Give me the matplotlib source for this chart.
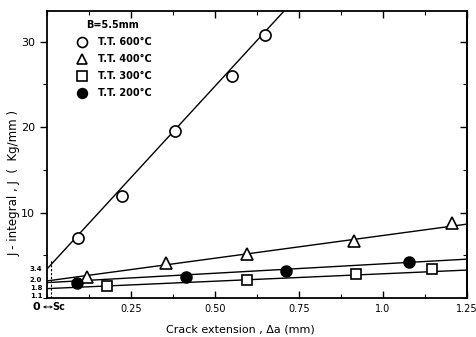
import matplotlib.pyplot as plt
from matplotlib.ticker import MultipleLocator

# Measured points (crack extension mm, J kg/mm)
da_600 = [0.092, 0.223, 0.381, 0.550, 0.650]
j_600 = [7.0, 12.0, 19.6, 26.0, 30.8]
da_400 = [0.119, 0.354, 0.595, 0.914, 1.205]
j_400 = [2.5, 4.1, 5.15, 6.7, 8.8]
da_300 = [0.179, 0.595, 0.920, 1.146]
j_300 = [1.35, 2.1, 2.8, 3.35]
da_200 = [0.090, 0.414, 0.711, 1.077]
j_200 = [1.75, 2.45, 3.15, 4.2]

# Fitted line end points
fit_x_600 = [0.0, 0.75]
fit_y_600 = [3.4, 35.5]
fit_x_400 = [0.0, 1.25]
fit_y_400 = [2.0, 8.65]
fit_x_300 = [0.0, 1.25]
fit_y_300 = [1.1, 3.27]
fit_x_200 = [0.0, 1.25]
fit_y_200 = [1.8, 4.55]

intercept_labels = ["3.4", "2.0", "1.8", "1.1"]
series_labels = ["T.T. 600°C", "T.T. 400°C", "T.T. 300°C", "T.T. 200°C"]
delta_c = 0.012

# label heights (spread apart a bit so they stay readable)
label_pos = [3.4, 2.1, 1.15, 0.2]

fig = plt.figure(figsize=(4.77, 3.37), dpi=100)
ax = fig.add_axes([0.0985, 0.1157, 0.8805, 0.8516])

lw = 1.0
ax.plot(fit_x_600, fit_y_600, color="black", lw=lw)
ax.plot(fit_x_400, fit_y_400, color="black", lw=lw)
ax.plot(fit_x_300, fit_y_300, color="black", lw=lw)
ax.plot(fit_x_200, fit_y_200, color="black", lw=lw)

h1, = ax.plot(da_600, j_600, "o", ms=8, mfc="white", mec="black", mew=1.2, ls="none")
h2, = ax.plot(da_400, j_400, "^", ms=8, mfc="white", mec="black", mew=1.2, ls="none")
h3, = ax.plot(da_300, j_300, "s", ms=7.5, mfc="white", mec="black", mew=1.2, ls="none")
h4, = ax.plot(da_200, j_200, "o", ms=8, mfc="black", mec="black", ls="none")

# delta c dashed line
ax.plot([delta_c, delta_c], [0, 4.5], color="black", lw=0.8, ls=(0, (2, 1.5)))

ax.set_xlim(0, 1.25)
ax.set_ylim(0, 33.6)
ax.set_xticks([0.25, 0.5, 0.75, 1.0, 1.25])
ax.set_xticklabels(["0.25", "0.50", "0.75", "1.0", "1.25"])
ax.set_yticks([10, 20, 30])
ax.xaxis.set_minor_locator(MultipleLocator(0.125))
ax.yaxis.set_minor_locator(MultipleLocator(5))
ax.tick_params(axis="x", which="both", direction="in", top=True, labelsize=7, pad=4)
ax.tick_params(axis="y", which="both", direction="out", labelsize=8)
ax.tick_params(which="major", length=5, width=1)
ax.tick_params(which="minor", length=3, width=0.8)
for s in ax.spines.values():
    s.set_linewidth(1.3)

# right side ticks point inward
ax_r = ax.secondary_yaxis("right")
ax_r.set_yticks([10, 20, 30])
ax_r.yaxis.set_minor_locator(MultipleLocator(5))
ax_r.tick_params(which="both", direction="in", labelright=False)
ax_r.tick_params(which="major", length=5, width=1)
ax_r.tick_params(which="minor", length=3, width=0.8)
ax_r.spines["right"].set_linewidth(1.3)

for v, t in zip(label_pos, intercept_labels):
    ax.text(-0.014, v, t, ha="right", va="center", fontsize=5, fontweight="bold")
ax.text(-0.02, -1.05, "0", ha="right", va="center", fontsize=8, fontweight="bold")
ax.text(0.016, -1.05, "Sc", ha="left", va="center", fontsize=7, fontweight="bold")
ax.annotate("", xy=(-0.012, -1.05), xytext=(0.018, -1.05), annotation_clip=False,
            arrowprops=dict(arrowstyle="<->", lw=0.6, shrinkA=0, shrinkB=0,
                            mutation_scale=4))

ax.set_xlabel("Crack extension , Δa (mm)", fontsize=8)
ax.xaxis.set_label_coords(0.46, -0.092)
ax.set_ylabel("J - integral , J  (  Kg/mm )", fontsize=8.5)
ax.yaxis.set_label_coords(-0.062, 0.40)

ax.text(0.155, 0.951, "B=5.5mm", transform=ax.transAxes, ha="center", va="center",
        fontsize=7, fontweight="bold")
leg = ax.legend([h1, h2, h3, h4], series_labels,
                loc="upper left", bbox_to_anchor=(0.045, 0.932),
                frameon=False, fontsize=7, handletextpad=0.6,
                labelspacing=0.72, markerscale=0.9, borderpad=0.2)
for t in leg.get_texts():
    t.set_fontweight("bold")

fig.savefig("out.png", dpi=100)
